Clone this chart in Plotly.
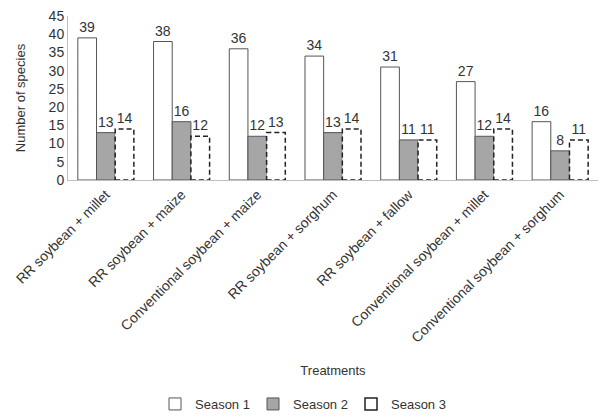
import plotly.graph_objects as go

categories = ["RR soybean + millet", "RR soybean + maize", "Conventional soybean + maize",
              "RR soybean + sorghum", "RR soybean + fallow", "Conventional soybean + millet",
              "Conventional soybean + sorghum"]
season1 = [39, 38, 36, 34, 31, 27, 16]
season2 = [13, 16, 12, 13, 11, 12, 8]
season3 = [14, 12, 13, 14, 11, 14, 11]
y_ticks = [0, 5, 10, 15, 20, 25, 30, 35, 40, 45]

FONT = "Liberation Sans, Arial, sans-serif"
BARGAP = 0.26
TXT = dict(size=14, color="#333333", family=FONT)

fig = go.Figure()
fig.add_trace(go.Bar(x=categories, y=season1, name="Season 1", legend="legend",
                     marker=dict(color="white", line=dict(color="#555555", width=1)),
                     text=season1, textposition="outside", textfont=TXT, cliponaxis=False))
fig.add_trace(go.Bar(x=categories, y=season2, name="Season 2", legend="legend2",
                     marker=dict(color="#a6a6a6", line=dict(color="#555555", width=1)),
                     text=season2, textposition="outside", textfont=TXT, cliponaxis=False))
fig.add_trace(go.Bar(x=categories, y=season3, name="Season 3", showlegend=False,
                     marker=dict(color="white", line=dict(color="rgba(0,0,0,0)", width=0)),
                     text=season3, textposition="outside", textfont=TXT, cliponaxis=False))
# legend-only entry for Season 3 on a hidden overlay axis
fig.add_trace(go.Bar(x=[None], y=[None], name="Season 3", xaxis="x2", yaxis="y2", legend="legend3",
                     marker=dict(color="white", line=dict(color="#222222", width=1.5))))

# dashed outlines for Season 3 bars, positioned from the data
w = (1 - BARGAP) / 3
for i, v in enumerate(season3):
    fig.add_shape(type="rect", xref="x", yref="y",
                  x0=i + w / 2, x1=i + 1.5 * w, y0=0, y1=v,
                  line=dict(color="#222222", width=1.5, dash="5px,3px"),
                  fillcolor="rgba(0,0,0,0)", layer="above")

LEG = dict(orientation="h", y=-1.36, yanchor="middle", xanchor="left",
           font=dict(size=13, color="#333333"), itemwidth=30, bgcolor="rgba(0,0,0,0)")
# legend x positions in paper units (plot spans x=68..598 px)
def px_to_paper(px):
    return (px - 68) / 530

fig.update_layout(
    width=600, height=419,
    barmode="group", bargap=BARGAP, bargroupgap=0,
    plot_bgcolor="white", paper_bgcolor="white",
    margin=dict(l=68, r=2, t=16, b=238),
    font=dict(family=FONT, size=13, color="#333333"),
    xaxis=dict(tickangle=-45, showline=True, linecolor="#bfbfbf", linewidth=1,
               ticks="", tickfont=dict(size=14, color="#333333"), automargin=False,
               title=dict(text="Treatments", font=dict(size=13, color="#333333"), standoff=21)),
    yaxis=dict(range=[0, 45], tickvals=y_ticks, showline=True, linecolor="#bfbfbf",
               linewidth=1, showgrid=False, zeroline=False, ticks="", automargin=False,
               tickfont=dict(size=14, color="#333333"),
               title=dict(text="Number of species", font=dict(size=13, color="#333333"), standoff=20)),
    xaxis2=dict(overlaying="x", visible=False),
    yaxis2=dict(overlaying="y", visible=False),
    legend=dict(LEG, x=px_to_paper(155)),
    legend2=dict(LEG, x=px_to_paper(253)),
    legend3=dict(LEG, x=px_to_paper(351)),
)

fig.write_html("out.html", config={"displayModeBar": False},
               post_script="document.body.style.margin='0';")
